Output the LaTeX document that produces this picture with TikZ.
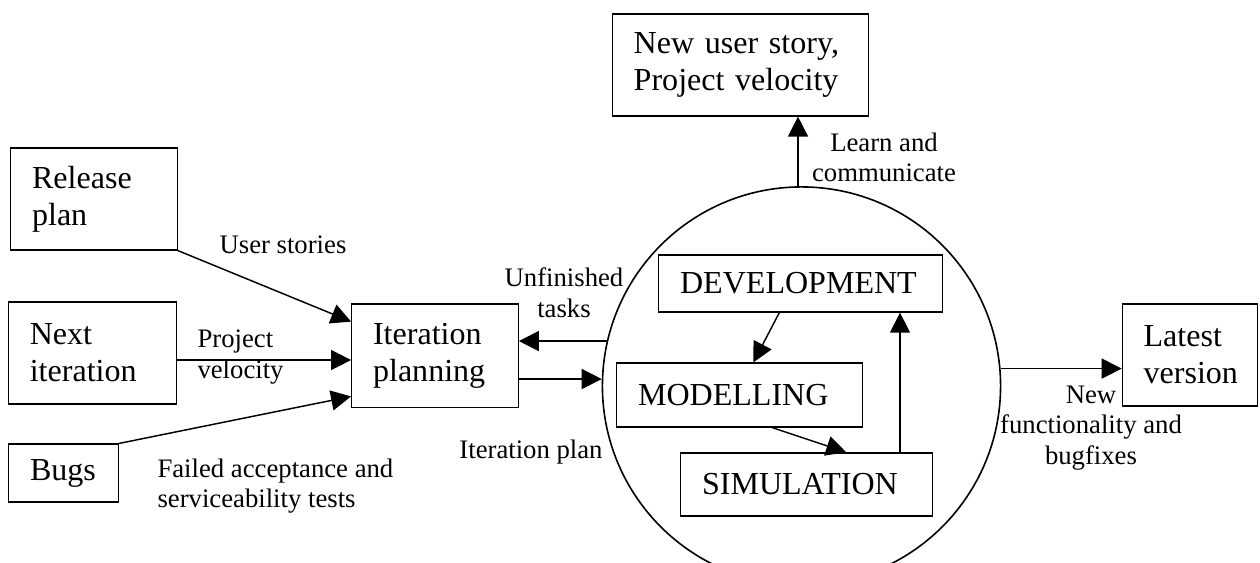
\documentclass[tikz,border=0pt]{standalone}
\usepackage{fontspec}
\setmainfont{Liberation Serif}
\usetikzlibrary{arrows.meta}

\begin{document}
\begin{tikzpicture}[
  x=0.1316mm, y=-0.1316mm,
  box/.style={draw=black, line width=0.5pt, align=left, inner xsep=0.28cm, inner ysep=0pt,
    font=\fontsize{12}{13.8}\selectfont},
  lbl/.style={inner sep=0pt, font=\fontsize{10}{11.5}\selectfont},
  flow/.style={draw=black, line width=0.55pt, -{Triangle[length=7.5pt,width=7.5pt]}}
]
  \useasboundingbox (0,0) rectangle (1260,563);

  % Entradas
  \node[box, text width=1.63cm, minimum height=1.34cm] (release) at (94,199) {Release\\plan};
  \node[box, text width=1.65cm, minimum height=1.34cm] (next) at (92.5,353) {Next\\iteration};
  \node[box, text width=0.88cm, minimum height=0.76cm] (bugs) at (63.5,473) {Bugs};

  % Planificacion
  \node[box, text width=1.63cm, minimum height=1.36cm] (iter) at (435,355.5) {Iteration\\planning};

  % Ciclo
  \node[circle, draw=black, line width=0.6pt, minimum size=5.24cm, inner sep=0pt] (ring) at (801.5,386) {};
  \node[box, text width=3.17cm, minimum height=0.75cm] (dev) at (800.5,283.5) {DEVELOPMENT};
  \node[box, text width=2.67cm, minimum height=0.84cm] (mod) at (739.5,395) {MODELLING};
  \node[box, text width=2.75cm, minimum height=0.83cm] (sim) at (806.5,484.5) {SIMULATION};

  % Salidas
  \node[box, text width=2.81cm, minimum height=1.34cm] (story) at (740.5,65) {New user story,\\Project velocity};
  \node[box, text width=1.22cm, minimum height=1.34cm] (latest) at (1190,355) {Latest\\version};

  % Flechas
  \draw[flow] (release.south east) -- (iter.158);
  \draw[flow] (next.east |- 0,360) -- (iter.west |- 0,360);
  \draw[flow] (bugs.north east) -- (iter.206);
  \draw[flow] (ring.167) -- (iter.east |- ring.167);
  \draw[flow] (iter.east |- ring.178) -- (ring.178);
  \draw[flow] (ring.91.5) -- (ring.91.5 |- story.south);
  \draw[flow] (ring.5) -- (latest.west |- ring.5);
  \draw[flow] (dev.234) -- (mod.67);
  \draw[flow] (mod.-45) -- (sim.39);
  \draw[flow] (sim.19) -- (sim.19 |- dev.south);

  % Etiquetas
  \node[lbl] (lstories) at (283,245) {User stories};
  \node[lbl, align=left, anchor=west] (lvel) at (197,357) {Project\\velocity};
  \node[lbl, align=left, anchor=west] (lfail) at (157,486) {Failed acceptance and\\serviceability tests};
  \node[lbl, align=center] (ltasks) at (564,292.5) {Unfinished\\tasks};
  \node[lbl] (lplan) at (531,452) {Iteration plan};
  \node[lbl, align=center] (llearn) at (884,157.5) {Learn and\\communicate};
  \node[lbl, align=center] (lnew) at (1091,428) {New\\functionality and\\bugfixes};
\end{tikzpicture}
\end{document}
